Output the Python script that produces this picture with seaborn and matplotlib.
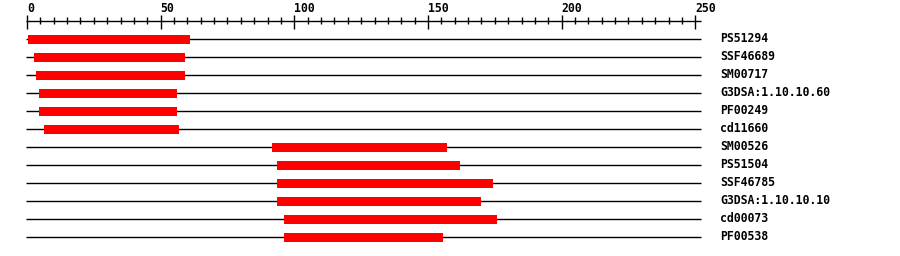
import numpy as np
import pandas as pd
import matplotlib
matplotlib.use("Agg")
import matplotlib.pyplot as plt
import seaborn as sns

# ---- data ----
features = ["PS51294", "SSF46689", "SM00717", "G3DSA:1.10.10.60", "PF00249", "cd11660",
            "SM00526", "PS51504", "SSF46785", "G3DSA:1.10.10.10", "cd00073", "PF00538"]
starts = [0.5, 2.5, 3.5, 4.5, 4.5, 6.5, 91.5, 93.5, 93.5, 93.5, 96.0, 96.0]
ends = [61.0, 59.0, 59.0, 56.0, 56.0, 57.0, 157.0, 162.0, 174.5, 170.0, 176.0, 155.5]
seq_start = -0.4
seq_end = 252.2
major_ticks = [0, 50, 100, 150, 200, 250]
minor_step = 5

df = pd.DataFrame({"feature": features,
                   "start": starts,
                   "length": np.array(ends) - np.array(starts)})

sns.set_style("white")
plt.rcParams["font.family"] = ["DejaVu Sans Mono", "DejaVu Sans"]

fig = plt.figure(figsize=(9, 2.56), dpi=100)
ax = fig.add_axes([0, 0, 1, 1])

n = len(features)
# baseline sequence lines
ax.hlines(np.arange(n), seq_start, seq_end, color="black", linewidth=1.0, zorder=1)

# domain bars
sns.barplot(data=df, x="length", y="feature", orient="y", left=df["start"].values,
            color="#ff0000", width=0.5, saturation=1, linewidth=0, ax=ax, zorder=2)

# ruler
ry = (20.7 - 39) / 18
ax.hlines(ry, seq_start, seq_end, color="black", linewidth=1.0)
minor = np.arange(0, major_ticks[-1] + 1, minor_step)
minor = minor[~np.isin(minor, major_ticks)]
ax.vlines(minor, (17 - 39) / 18, (24 - 39) / 18, color="black", linewidth=1.0)
ax.vlines(major_ticks, (15 - 39) / 18, (29 - 39) / 18, color="black", linewidth=1.0)
for t in major_ticks:
    ax.text(t, (12 - 39) / 18, str(t), ha="left", va="baseline",
            fontsize=8.3, fontweight="bold", color="black")

# feature labels
k = (695.3 - 27) / 250
lx = (720 - 27) / k
for i, name in enumerate(features):
    ax.text(lx, i, name, ha="left", va="center", fontsize=8.3,
            fontweight="bold", color="black")

ax.set_xlim(-27 / k, (900 - 27) / k)
ax.set_ylim((256 - 39) / 18, -39 / 18)
ax.axis("off")

fig.savefig("out.png", dpi=100, facecolor="white")
